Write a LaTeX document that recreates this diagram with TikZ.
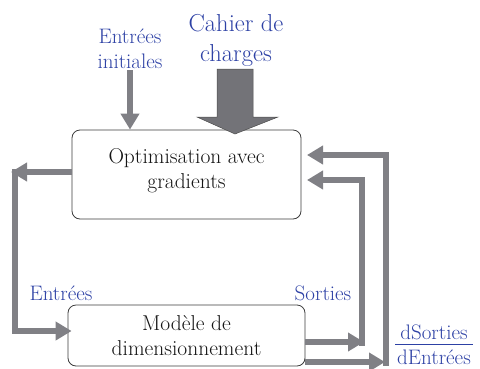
\documentclass[tikz,border=0pt]{standalone}
\usetikzlibrary{arrows.meta}
\definecolor{agray}{RGB}{128,128,133}
\definecolor{bgray}{RGB}{115,115,120}
\definecolor{lblue}{RGB}{45,65,165}
\definecolor{boxline}{RGB}{60,60,60}
\begin{document}
\begin{tikzpicture}[x=1pt,y=-1pt,
  box/.style={draw=boxline, line width=0.8pt, rounded corners=8pt, inner sep=0pt},
  boxtxt/.style={align=center, font=\fontsize{21.5}{25}\selectfont, text=black!92, inner sep=0pt},
  lbl/.style={text=lblue, align=center, font=\fontsize{21}{25}\selectfont, inner sep=0pt},
  flow/.style={draw=agray, line width=6.5pt},
  arr/.style={-{Triangle[width=18pt,length=16pt]}},
]
\useasboundingbox (0,0) rectangle (480,368);
% boxes
\node[box, minimum width=229pt, minimum height=89pt] (opt) at (186.5,174.5) {};
\node[boxtxt] (optT) at (186.5,171) {Optimisation avec\\gradients};
\node[box, minimum width=237pt, minimum height=61pt] (mod) at (186.5,335.5) {};
\node[boxtxt] (modT) at (186.5,336) {Modèle de\\dimensionnement};
% labels
\node[lbl] (ei) at (130,49) {Entrées\\initiales};
\node[lbl, font=\fontsize{24.5}{30}\selectfont] (cc) at (236,40) {Cahier de\\charges};
\node[lbl] (ent) at (61,293) {Entrées};
\node[lbl] (sor) at (323,293) {Sorties};
\node[lbl] (num) at (434,332) {dSorties};
\node[lbl] (den) at (434,357) {dEntrées};
\draw[lblue, line width=0.8pt] ([xshift=-2pt]den.west |- 0,344) -- ([xshift=2pt]den.east |- 0,344);
% initial inputs arrow
\coordinate (eiS) at (130,70);
\draw[flow, arr, line width=5.5pt] (eiS) -- (eiS |- opt.north);
% big arrow (Cahier de charges)
\filldraw[fill=bgray, draw=black!70, line width=0.5pt]
  (217,69) -- (253,69) -- (253,117) -- (278,117) -- (235,134) -- (197,117) -- (217,117) -- cycle;
% left loop
\coordinate (L1) at (11,172);
\coordinate (L0) at (15,169);
\coordinate (L2) at (15,331);
\draw[flow, arr] (opt.west |- L1) -- (L1);
\draw[flow, arr] (L0) -- (L2) -- ([xshift=4pt]L2 -| mod.west);
% right loops
\coordinate (R1) at (364,342);
\coordinate (R1b) at (362,345.5);
\coordinate (Ti) at (307,180);
\coordinate (R2) at (385,362);
\coordinate (R2b) at (386,365.5);
\coordinate (To) at (307,155);
\draw[flow, arr] (mod.east |- R1) -- (R1);
\draw[flow, arr] (mod.east |- R2) -- (R2);
\draw[flow, arr] (R1b) |- (Ti);
\draw[flow, arr] (R2b) |- (To);
\end{tikzpicture}
\end{document}
